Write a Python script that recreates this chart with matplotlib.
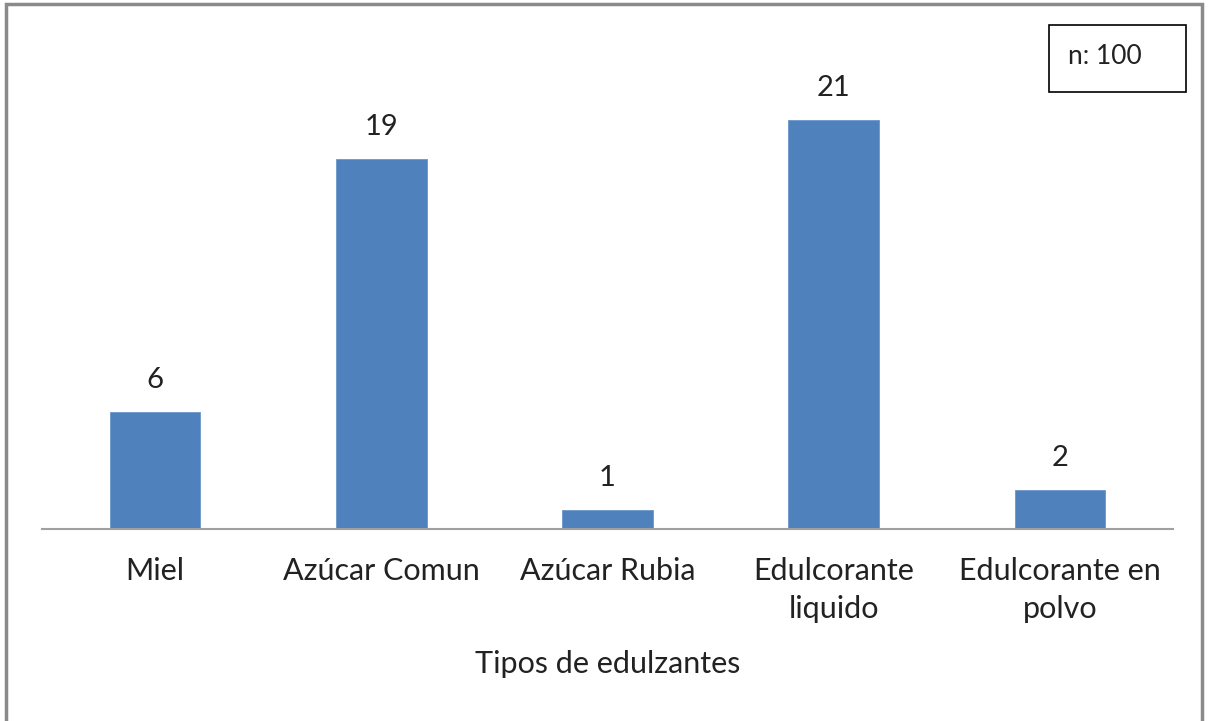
import matplotlib.pyplot as plt
from matplotlib.patches import Rectangle

plt.rcParams['font.family'] = ['Lato', 'DejaVu Sans']

# tipos de edulzantes y cantidad de respuestas
categorias = ['Miel', 'Azúcar Comun', 'Azúcar Rubia', 'Edulcorante\nliquido', 'Edulcorante en\npolvo']
valores = [6, 19, 1, 21, 2]
muestra = 'n: 100'

fig = plt.figure(figsize=(12.08, 7.21), dpi=100)
ax = fig.add_axes([0.0348, 0.2663, 0.9362, 0.676])

x = range(len(categorias))
ax.bar(x, valores, width=0.4, color='#4F81BD', edgecolor='#6B96CB', linewidth=0.6)
for xi, v in zip(x, valores):
    ax.annotate(str(v), (xi, v), xytext=(0, 17), textcoords='offset points',
                ha='center', va='baseline', fontsize=21, color='#222222')

ax.set_xlim(-0.5, len(categorias) - 0.5)
ax.set_ylim(0, 25)
ax.set_yticks([])
ax.set_xticks(list(x))
ax.set_xticklabels(categorias, fontsize=22, color='#222222', linespacing=1.45)
ax.tick_params(axis='x', length=0, pad=20)
for s in ['top', 'right', 'left']:
    ax.spines[s].set_visible(False)
ax.spines['bottom'].set_color('#A0A0A0')
ax.spines['bottom'].set_linewidth(1.5)
ax.set_xlabel('Tipos de edulzantes', fontsize=22, color='#222222', labelpad=19)

# cuadro con el tamaño de muestra
fig.patches.append(Rectangle((1049 / 1208, 1 - 92 / 721), 137 / 1208, 67 / 721,
                             transform=fig.transFigure, fill=False,
                             edgecolor='black', linewidth=1.2))
fig.text(1105 / 1208, 1 - 57 / 721, muestra, ha='center', va='center',
         fontsize=19, color='#222222')

# marco gris alrededor del gráfico
fig.patches.append(Rectangle((6 / 1208, -0.05), 1196 / 1208, 1.05 - 4 / 721,
                             transform=fig.transFigure, fill=False,
                             edgecolor='#8A8A8A', linewidth=2.5))

fig.savefig('out.png', dpi=100)
